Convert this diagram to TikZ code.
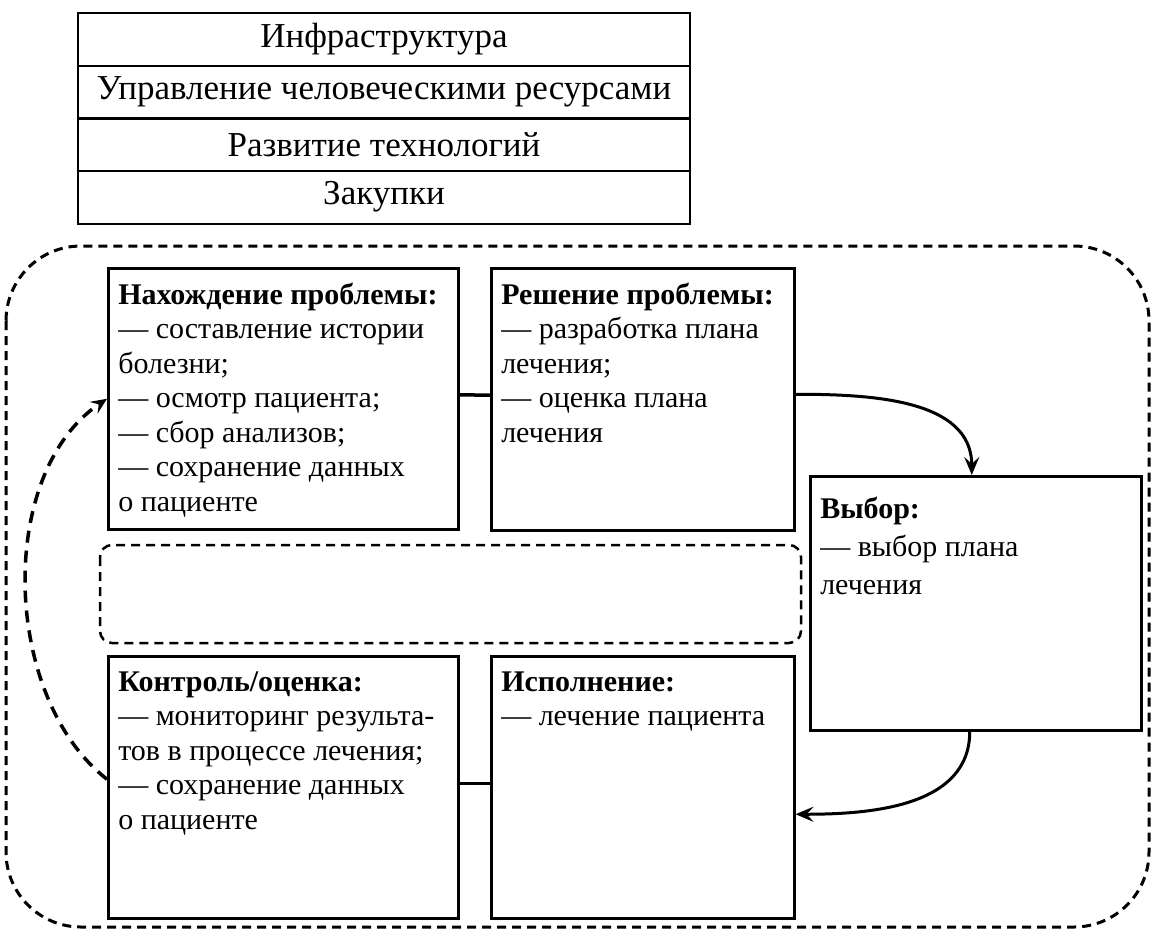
\documentclass[tikz,border=0pt]{standalone}
\usepackage{fontspec}
\setmainfont{Liberation Serif}
\usetikzlibrary{arrows.meta,calc}
\newcommand\boxbody[4]{\parbox[t][#1][t]{#2}{\vspace*{#3}\strut#4}}
\begin{document}
\begin{tikzpicture}[x=1pt,y=-1pt,
  cell/.style={draw, line width=2pt, minimum width=612pt, minimum height=53pt,
    inner sep=0pt, anchor=north west, font=\fontsize{35}{40}\selectfont},
  box/.style={draw, line width=2.5pt, anchor=north west, inner xsep=10pt,
    inner ysep=0pt, font=\fontsize{30}{34.5}\selectfont},
  link/.style={line width=3.5pt},
  arr/.style={line width=3pt, -{Stealth[length=18pt,width=15pt,inset=7pt]}},
  back/.style={line width=3.5pt, dash pattern=on 12pt off 8pt,
    -{Stealth[length=16pt,width=14pt,inset=6pt]}},
  frame/.style={line width=3pt, dash pattern=on 9pt off 6pt},
]
\useasboundingbox[fill=white] (0,0) rectangle (1153,932);

% support activities
\node[cell] (t1) at (77,12)    {Инфраструктура};
\node[cell] (t2) at (77,64.5)  {Управление человеческими ресурсами};
\node[cell] (t3) at (77,117)   {Развитие технологий};
\node[cell] (t4) at (77,169.5) {Закупки};

% outer frame and inner dashed panel
\draw[frame, rounded corners=75pt] (6,246) rectangle (1149,927);
\draw[frame, line width=2.5pt, rounded corners=12pt] (100,545) rectangle (801,643);

% boxes
\node[box] (b1) at (107,267) {\boxbody{261pt}{330pt}{12pt}{%
  \mbox{\textbf{Нахождение проблемы:}}\\
  \mbox{— составление истории}\\
  \mbox{болезни;}\\
  \mbox{— осмотр пациента;}\\
  \mbox{— сбор анализов;}\\
  \mbox{— сохранение данных}\\
  \mbox{о пациенте}}};
\node[box] (b2) at (490,267) {\boxbody{262pt}{283pt}{12pt}{%
  \mbox{\textbf{Решение проблемы:}}\\
  \mbox{— разработка плана}\\
  \mbox{лечения;}\\
  \mbox{— оценка плана}\\
  \mbox{лечения}}};
\node[box, font=\fontsize{30}{38}\selectfont] (v) at (809,475) {\boxbody{254pt}{311pt}{16pt}{%
  \mbox{\textbf{Выбор:}}\\
  \mbox{— выбор плана}\\
  \mbox{лечения}}};
\node[box] (b3) at (107,655) {\boxbody{262pt}{330pt}{11pt}{%
  \mbox{\textbf{Контроль/оценка:}}\\
  \mbox{— мониторинг результа-}\\
  \mbox{тов в процессе лечения;}\\
  \mbox{— сохранение данных}\\
  \mbox{о пациенте}}};
\node[box] (b4) at (490,655) {\boxbody{262pt}{283pt}{11pt}{%
  \mbox{\textbf{Исполнение:}}\\
  \mbox{— лечение пациента}}};

% connectors
\draw[link] ([yshift=4pt]b1.east) -- ([yshift=4pt]b2.west);
\draw[link] ([yshift=4pt]b3.east) -- ([yshift=4pt]b4.west);
\draw[arr] ([yshift=5pt]b2.east) to[out=0,in=90] ([xshift=-4pt]v.north);
\draw[arr] ([xshift=-6pt]v.south) to[out=-90,in=0] ([yshift=-27pt]b4.east);
\draw[back] ([yshift=8pt]b3.west) to[out=142,in=214,looseness=0.9] (b1.west);
\end{tikzpicture}
\end{document}
